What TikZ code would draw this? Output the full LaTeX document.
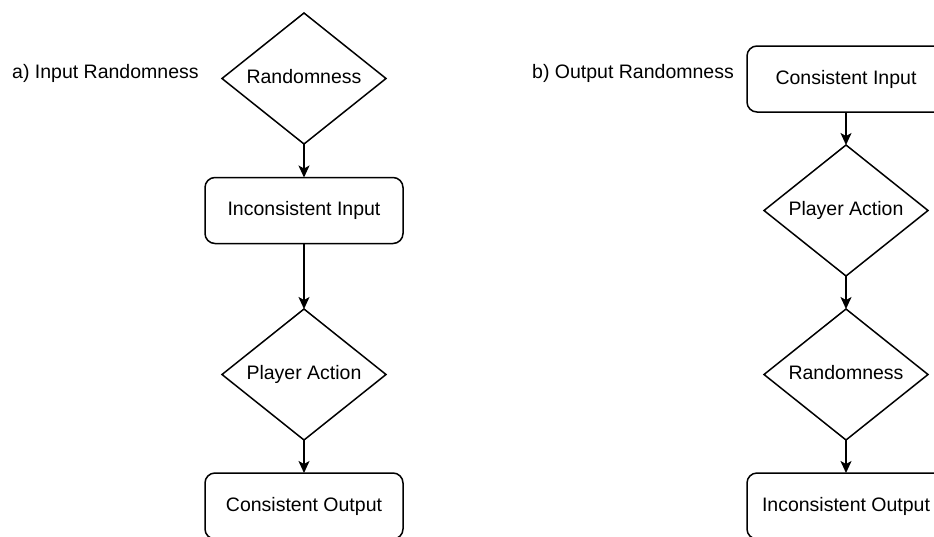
\documentclass[tikz,border=0pt]{standalone}
\usepackage{fontspec}
\setmainfont{Liberation Sans}
\usetikzlibrary{shapes.geometric,arrows.meta}
\begin{document}
\begin{tikzpicture}[x=1pt,y=-1pt,
  every node/.style={font=\fontsize{19.5}{23}\selectfont, text=black},
  dia/.style={draw, line width=1.5pt, diamond, aspect=1.25, minimum width=164pt, minimum height=131pt, inner sep=0pt, outer sep=0pt, text height=14pt, text depth=4pt},
  box/.style={draw, line width=1.5pt, rounded corners=10pt, minimum width=198pt, minimum height=66pt, inner sep=0pt, outer sep=0pt, text height=14pt, text depth=4pt},
  conn/.style={line width=1.5pt, -{Stealth[length=12pt,width=11pt,inset=3pt]}},
  lbl/.style={anchor=west, inner sep=0pt}
]
\useasboundingbox (0,0) rectangle (934,536);
\begin{scope}
\clip (0,0) rectangle (934,536);
% left column
\node[lbl] (la) at (12,73) {a) Input Randomness};
\node[dia] (a1) at (304,78.5) {Randomness};
\node[box] (a2) at (304,210.5) {Inconsistent Input};
\node[dia] (a3) at (304,374.5) {Player Action};
\node[box] (a4) at (304,506) {Consistent Output};
\draw[conn] (a1.south) -- (a2.north);
\draw[conn] (a2.south) -- (a3.north);
\draw[conn] (a3.south) -- (a4.north);
% right column
\node[lbl] (lb) at (532,73) {b) Output Randomness};
\node[box] (b1) at (846,79) {Consistent Input};
\node[dia] (b2) at (846,210.5) {Player Action};
\node[dia] (b3) at (846,374.5) {Randomness};
\node[box] (b4) at (846,506) {Inconsistent Output};
\draw[conn] (b1.south) -- (b2.north);
\draw[conn] (b2.south) -- (b3.north);
\draw[conn] (b3.south) -- (b4.north);
\end{scope}
\end{tikzpicture}
\end{document}
